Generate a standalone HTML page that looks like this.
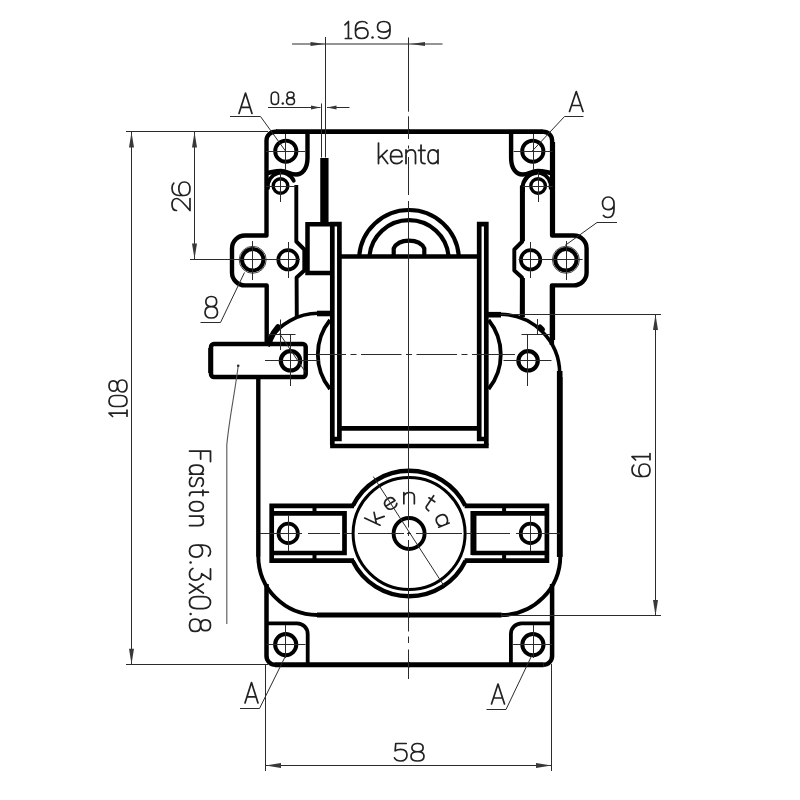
<!DOCTYPE html>
<html><head><meta charset="utf-8"><title>Drawing</title>
<style>
html,body{margin:0;padding:0;background:#fff;}
body{width:800px;height:800px;overflow:hidden;font-family:"Liberation Sans",sans-serif;}
svg{display:block}
</style></head>
<body>
<svg width="800" height="800" viewBox="0 0 800 800">
<rect width="800" height="800" fill="#fff"/>
<g>
<path d="M266.7,345 L266.7,285.4 L245,285.4 A13,13 0 0 1 232,272.4 L232,248.5 A13,13 0 0 1 245,235.5 L266.5,235.5 L266.5,140.5 A8.8,8.8 0 0 1 275.3,131.7 L277,131.7" fill="none" stroke="#000" stroke-width="4.4" stroke-linejoin="round" stroke-linecap="butt"/>
<path d="M276,131.7 L410,131.7" fill="none" stroke="#000" stroke-width="4.8" stroke-linejoin="round" stroke-linecap="butt"/>
<path d="M307.5,132 L307.5,158 C307.5,169 302,174.5 296,174.5 C290,174.5 287,171 281,171 C275,171 271,172.5 267,173" fill="none" stroke="#000" stroke-width="4.3999999999999995" stroke-linejoin="round" stroke-linecap="butt"/>
<path d="M268,188 A13.5,13.5 0 0 1 293.74,180.79" fill="none" stroke="#000" stroke-width="3.8" stroke-linejoin="round" stroke-linecap="round"/>
<path d="M296.3,185 L296.3,241.5 L304.3,249.5 L304.3,270.5 L296.6,277.5 L296.8,317" fill="none" stroke="#000" stroke-width="3.9000000000000004" stroke-linejoin="round" stroke-linecap="butt"/>
<circle cx="285.8" cy="151.2" r="10.6" fill="none" stroke="#000" stroke-width="3.9"/>
<circle cx="280.5" cy="186" r="7.3" fill="none" stroke="#000" stroke-width="3.4"/>
<circle cx="252.7" cy="259.8" r="10.7" fill="none" stroke="#000" stroke-width="4.0"/>
<circle cx="252.7" cy="259.8" r="13.5" fill="none" stroke="#333" stroke-width="0.9"/>
<circle cx="288" cy="259.8" r="9.7" fill="none" stroke="#000" stroke-width="3.7"/>
<path d="M258.3,377 L258.3,556.5" fill="none" stroke="#000" stroke-width="4.4" stroke-linejoin="round" stroke-linecap="butt"/>
<path d="M258.3,556 A59,59 0 0 0 317.3,615" fill="none" stroke="#000" stroke-width="3.9000000000000004" stroke-linejoin="round" stroke-linecap="butt"/>
<path d="M317,615 L410,615" fill="none" stroke="#000" stroke-width="5.0" stroke-linejoin="round" stroke-linecap="butt"/>
<path d="M266.5,584 L266.5,656 A8.8,8.8 0 0 0 275.3,664.8" fill="none" stroke="#000" stroke-width="4.5" stroke-linejoin="round" stroke-linecap="butt"/>
<path d="M275,664.8 L410,664.8" fill="none" stroke="#000" stroke-width="5.0" stroke-linejoin="round" stroke-linecap="butt"/>
<path d="M266.5,623.3 L297,623.3 A10.7,10.7 0 0 1 307.7,634 L307.7,664" fill="none" stroke="#000" stroke-width="3.8" stroke-linejoin="round" stroke-linecap="butt"/>
<circle cx="285.7" cy="644.6" r="10.6" fill="none" stroke="#000" stroke-width="4.0"/>
<path d="M354,505.8 L271.7,505.8 L271.7,560.6 L354,560.6" fill="none" stroke="#000" stroke-width="4.7" stroke-linejoin="miter" stroke-linecap="butt"/>
<path d="M272,513.3 L344.5,513.3 L344.5,553 L272,553" fill="none" stroke="#000" stroke-width="4.7" stroke-linejoin="miter" stroke-linecap="butt"/>
<line x1="314.5" y1="505" x2="314.5" y2="514" stroke="#000" stroke-width="4" stroke-linecap="butt"/>
<line x1="314.5" y1="552" x2="314.5" y2="561" stroke="#000" stroke-width="4" stroke-linecap="butt"/>
<circle cx="288.2" cy="533.4" r="9.7" fill="none" stroke="#000" stroke-width="3.7"/>
<path d="M330,320 A55,55 0 0 0 330,389" fill="none" stroke="#000" stroke-width="3.8" stroke-linejoin="round" stroke-linecap="butt"/>
<path d="M332.3,445 L332.3,224.2 L339.4,224.2 L339.4,439 L332.3,439" fill="none" stroke="#000" stroke-width="4.7" stroke-linejoin="miter" stroke-linecap="butt"/>
<circle cx="290.5" cy="360.8" r="9.7" fill="none" stroke="#000" stroke-width="4.2"/>
</g>
<g transform="translate(818.6,0) scale(-1,1)">
<path d="M266.7,345 L266.7,285.4 L245,285.4 A13,13 0 0 1 232,272.4 L232,248.5 A13,13 0 0 1 245,235.5 L266.5,235.5 L266.5,140.5 A8.8,8.8 0 0 1 275.3,131.7 L277,131.7" fill="none" stroke="#000" stroke-width="4.4" stroke-linejoin="round" stroke-linecap="butt"/>
<path d="M276,131.7 L410,131.7" fill="none" stroke="#000" stroke-width="4.8" stroke-linejoin="round" stroke-linecap="butt"/>
<path d="M307.5,132 L307.5,158 C307.5,169 302,174.5 296,174.5 C290,174.5 287,171 281,171 C275,171 271,172.5 267,173" fill="none" stroke="#000" stroke-width="4.3999999999999995" stroke-linejoin="round" stroke-linecap="butt"/>
<path d="M268,188 A13.5,13.5 0 0 1 293.74,180.79" fill="none" stroke="#000" stroke-width="3.8" stroke-linejoin="round" stroke-linecap="round"/>
<path d="M296.3,185 L296.3,241.5 L304.3,249.5 L304.3,270.5 L296.6,277.5 L296.8,317" fill="none" stroke="#000" stroke-width="3.9000000000000004" stroke-linejoin="round" stroke-linecap="butt"/>
<circle cx="285.8" cy="151.2" r="10.6" fill="none" stroke="#000" stroke-width="3.9"/>
<circle cx="280.5" cy="186" r="7.3" fill="none" stroke="#000" stroke-width="3.4"/>
<circle cx="252.7" cy="259.8" r="10.7" fill="none" stroke="#000" stroke-width="4.0"/>
<circle cx="252.7" cy="259.8" r="13.5" fill="none" stroke="#333" stroke-width="0.9"/>
<circle cx="288" cy="259.8" r="9.7" fill="none" stroke="#000" stroke-width="3.7"/>
<path d="M258.3,377 L258.3,556.5" fill="none" stroke="#000" stroke-width="4.4" stroke-linejoin="round" stroke-linecap="butt"/>
<path d="M258.3,556 A59,59 0 0 0 317.3,615" fill="none" stroke="#000" stroke-width="3.9000000000000004" stroke-linejoin="round" stroke-linecap="butt"/>
<path d="M317,615 L410,615" fill="none" stroke="#000" stroke-width="5.0" stroke-linejoin="round" stroke-linecap="butt"/>
<path d="M266.5,584 L266.5,656 A8.8,8.8 0 0 0 275.3,664.8" fill="none" stroke="#000" stroke-width="4.5" stroke-linejoin="round" stroke-linecap="butt"/>
<path d="M275,664.8 L410,664.8" fill="none" stroke="#000" stroke-width="5.0" stroke-linejoin="round" stroke-linecap="butt"/>
<path d="M266.5,623.3 L297,623.3 A10.7,10.7 0 0 1 307.7,634 L307.7,664" fill="none" stroke="#000" stroke-width="3.8" stroke-linejoin="round" stroke-linecap="butt"/>
<circle cx="285.7" cy="644.6" r="10.6" fill="none" stroke="#000" stroke-width="4.0"/>
<path d="M354,505.8 L271.7,505.8 L271.7,560.6 L354,560.6" fill="none" stroke="#000" stroke-width="4.7" stroke-linejoin="miter" stroke-linecap="butt"/>
<path d="M272,513.3 L344.5,513.3 L344.5,553 L272,553" fill="none" stroke="#000" stroke-width="4.7" stroke-linejoin="miter" stroke-linecap="butt"/>
<line x1="314.5" y1="505" x2="314.5" y2="514" stroke="#000" stroke-width="4" stroke-linecap="butt"/>
<line x1="314.5" y1="552" x2="314.5" y2="561" stroke="#000" stroke-width="4" stroke-linecap="butt"/>
<circle cx="288.2" cy="533.4" r="9.7" fill="none" stroke="#000" stroke-width="3.7"/>
<path d="M330,320 A55,55 0 0 0 330,389" fill="none" stroke="#000" stroke-width="3.8" stroke-linejoin="round" stroke-linecap="butt"/>
<path d="M332.3,445 L332.3,224.2 L339.4,224.2 L339.4,439 L332.3,439" fill="none" stroke="#000" stroke-width="4.7" stroke-linejoin="miter" stroke-linecap="butt"/>
<circle cx="290.5" cy="360.8" r="9.7" fill="none" stroke="#000" stroke-width="4.2"/>
</g>
<path d="M487,314.7 L501,314.7" fill="none" stroke="#000" stroke-width="5.6" stroke-linejoin="round" stroke-linecap="butt"/>
<path d="M500,314.3 A59.5,59.5 0 0 1 559.7,373.5" fill="none" stroke="#000" stroke-width="3.6" stroke-linejoin="round" stroke-linecap="butt"/>
<path d="M559.7,371 L559.7,557" fill="none" stroke="#000" stroke-width="5.6" stroke-linejoin="round" stroke-linecap="butt"/>
<path d="M540,327 L542.5,329.5" fill="none" stroke="#000" stroke-width="5.0" stroke-linejoin="round" stroke-linecap="round"/>
<path d="M331,313.5 L317,313.5" fill="none" stroke="#000" stroke-width="5.6" stroke-linejoin="round" stroke-linecap="butt"/>
<path d="M318,313.3 A59.5,59.5 0 0 0 269,340" fill="none" stroke="#000" stroke-width="3.6" stroke-linejoin="round" stroke-linecap="butt"/>
<path d="M270,340 L273.5,333 L278,327" fill="none" stroke="#000" stroke-width="5.6" stroke-linejoin="round" stroke-linecap="round"/>
<path d="M270.5,340 L267.5,346" fill="none" stroke="#000" stroke-width="5.0" stroke-linejoin="round" stroke-linecap="butt"/>
<path d="M522.4,186 L522.4,241 M522.4,278 L522.4,317" fill="none" stroke="#000" stroke-width="5.0" stroke-linejoin="round" stroke-linecap="butt"/>
<path d="M522.8,192 L522.8,187 A14,14 0 0 1 536.8,173" fill="none" stroke="#000" stroke-width="4.1" stroke-linejoin="round" stroke-linecap="butt"/>
<path d="M552.6,142 L552.6,235 M552.6,285 L552.6,340" fill="none" stroke="#000" stroke-width="5.0" stroke-linejoin="round" stroke-linecap="butt"/>
<path d="M472.8,511 L472.8,555" fill="none" stroke="#000" stroke-width="4.7" stroke-linejoin="round" stroke-linecap="butt"/>
<path d="M339,256.5 L480,256.5" fill="none" stroke="#000" stroke-width="4.7" stroke-linejoin="round" stroke-linecap="butt"/>
<path d="M339,428.4 L480,428.4" fill="none" stroke="#000" stroke-width="4.7" stroke-linejoin="round" stroke-linecap="butt"/>
<path d="M330.1,446 L488.7,446" fill="none" stroke="#000" stroke-width="4.6000000000000005" stroke-linejoin="round" stroke-linecap="butt"/>
<path d="M359.12,256.5 A50.0,50.0 0 0 1 458.88,256.5" fill="none" stroke="#000" stroke-width="4.1000000000000005" stroke-linejoin="round" stroke-linecap="butt"/>
<path d="M369.35,256.5 A39.8,39.8 0 0 1 448.65,256.5" fill="none" stroke="#000" stroke-width="4.1000000000000005" stroke-linejoin="round" stroke-linecap="butt"/>
<path d="M393.7,256 L393.7,248.5 C396.5,242.5 402,240.6 409,240.6 C416,240.6 421.5,242.5 424.3,248.5 L424.3,256" fill="none" stroke="#000" stroke-width="4.2" stroke-linejoin="round" stroke-linecap="butt"/>
<path d="M307.5,222 L307.5,273 L332,273 M305.3,224.2 L334,224.2" fill="none" stroke="#000" stroke-width="4.5" stroke-linejoin="miter" stroke-linecap="butt"/>
<path d="M324.4,158 L324.4,224" fill="none" stroke="#000" stroke-width="8.3" stroke-linejoin="round" stroke-linecap="butt"/>
<path d="M214,344 L302.7,344 A3,3 0 0 1 305.7,347 L305.7,374 A3,3 0 0 1 302.7,377 L214,377 A3,3 0 0 1 211,374 L211,347 A3,3 0 0 1 214,344 Z" fill="none" stroke="#000" stroke-width="4.5" stroke-linejoin="round" stroke-linecap="butt"/>
<path d="M210.3,348 L210.3,373" fill="none" stroke="#000" stroke-width="4.2" stroke-linejoin="round" stroke-linecap="butt"/>
<path d="M352.85,505.8 A62.7,62.7 0 0 1 465.35,505.8" fill="none" stroke="#000" stroke-width="4.4" stroke-linejoin="round" stroke-linecap="butt"/>
<path d="M352.56,560.6 A62.7,62.7 0 0 0 465.64,560.6" fill="none" stroke="#000" stroke-width="4.4" stroke-linejoin="round" stroke-linecap="butt"/>
<circle cx="409.1" cy="533.5" r="56" fill="none" stroke="#000" stroke-width="3.0"/>
<circle cx="409.1" cy="533.5" r="15.5" fill="none" stroke="#000" stroke-width="3.9"/>
<g transform="translate(380.08,525.21) rotate(-65)" fill="none" stroke="#222" stroke-width="1.7" stroke-linecap="round" stroke-linejoin="round"><g transform="translate(0.00,-17) scale(21.1111,17)"><path d="M0,0 L0,1 M0.43,0.36 L0,0.76 M0.16,0.62 L0.46,1" vector-effect="non-scaling-stroke"/></g></g>
<g transform="translate(388.64,511.14) rotate(-32)" fill="none" stroke="#222" stroke-width="1.7" stroke-linecap="round" stroke-linejoin="round"><g transform="translate(0.00,-17) scale(22.0000,17)"><path d="M0,0.67 L0.5,0.67 C0.5,0.46 0.42,0.34 0.25,0.34 C0.08,0.34 0,0.47 0,0.67 C0,0.87 0.08,1 0.26,1 C0.38,1 0.46,0.95 0.5,0.87" vector-effect="non-scaling-stroke"/></g></g>
<g transform="translate(403.85,503.7) rotate(0)" fill="none" stroke="#222" stroke-width="1.7" stroke-linecap="round" stroke-linejoin="round"><g transform="translate(0.00,-17) scale(21.0000,17)"><path d="M0,0.34 L0,1 M0,0.52 C0.06,0.4 0.15,0.34 0.27,0.34 C0.42,0.34 0.5,0.43 0.5,0.58 L0.5,1" vector-effect="non-scaling-stroke"/></g></g>
<g transform="translate(422.86,506.84) rotate(34)" fill="none" stroke="#222" stroke-width="1.7" stroke-linecap="round" stroke-linejoin="round"><g transform="translate(0.00,-17) scale(19.4444,17)"><path d="M0.14,0.1 L0.14,0.85 C0.14,0.95 0.22,1 0.36,1 M0,0.36 L0.36,0.36" vector-effect="non-scaling-stroke"/></g></g>
<g transform="translate(434.76,517.47) rotate(68)" fill="none" stroke="#222" stroke-width="1.7" stroke-linecap="round" stroke-linejoin="round"><g transform="translate(0.00,-17) scale(21.0000,17)"><path d="M0.5,0.34 L0.5,1 M0.5,0.5 C0.44,0.4 0.36,0.34 0.25,0.34 C0.08,0.34 0,0.47 0,0.67 C0,0.87 0.08,1 0.25,1 C0.36,1 0.44,0.94 0.5,0.84" vector-effect="non-scaling-stroke"/></g></g>
<line x1="266" y1="151.5" x2="305" y2="151.5" stroke="#2b2b2b" stroke-width="1.0" stroke-linecap="butt"/>
<line x1="285.5" y1="134" x2="285.5" y2="170" stroke="#2b2b2b" stroke-width="1.0" stroke-linecap="butt"/>
<line x1="266" y1="186.5" x2="296" y2="186.5" stroke="#2b2b2b" stroke-width="1.0" stroke-linecap="butt"/>
<line x1="280.5" y1="172" x2="280.5" y2="202" stroke="#2b2b2b" stroke-width="1.0" stroke-linecap="butt"/>
<line x1="236" y1="259.5" x2="300" y2="259.5" stroke="#2b2b2b" stroke-width="1.0" stroke-linecap="butt"/>
<line x1="252.5" y1="241" x2="252.5" y2="280" stroke="#2b2b2b" stroke-width="1.0" stroke-linecap="butt"/>
<line x1="288.5" y1="242" x2="288.5" y2="278" stroke="#2b2b2b" stroke-width="1.0" stroke-linecap="butt"/>
<line x1="266.5" y1="644.5" x2="305.5" y2="644.5" stroke="#2b2b2b" stroke-width="1.0" stroke-linecap="butt"/>
<line x1="285.5" y1="625" x2="285.5" y2="658" stroke="#2b2b2b" stroke-width="1.0" stroke-linecap="butt"/>
<line x1="288.5" y1="515" x2="288.5" y2="551" stroke="#2b2b2b" stroke-width="1.0" stroke-linecap="butt"/>
<line x1="552.6" y1="151.5" x2="513.6" y2="151.5" stroke="#2b2b2b" stroke-width="1.0" stroke-linecap="butt"/>
<line x1="533.5" y1="134" x2="533.5" y2="170" stroke="#2b2b2b" stroke-width="1.0" stroke-linecap="butt"/>
<line x1="552.6" y1="186.5" x2="522.6" y2="186.5" stroke="#2b2b2b" stroke-width="1.0" stroke-linecap="butt"/>
<line x1="538.5" y1="172" x2="538.5" y2="202" stroke="#2b2b2b" stroke-width="1.0" stroke-linecap="butt"/>
<line x1="582.6" y1="259.5" x2="518.6" y2="259.5" stroke="#2b2b2b" stroke-width="1.0" stroke-linecap="butt"/>
<line x1="566.5" y1="241" x2="566.5" y2="280" stroke="#2b2b2b" stroke-width="1.0" stroke-linecap="butt"/>
<line x1="530.5" y1="242" x2="530.5" y2="278" stroke="#2b2b2b" stroke-width="1.0" stroke-linecap="butt"/>
<line x1="552.1" y1="644.5" x2="513.1" y2="644.5" stroke="#2b2b2b" stroke-width="1.0" stroke-linecap="butt"/>
<line x1="533.5" y1="625" x2="533.5" y2="658" stroke="#2b2b2b" stroke-width="1.0" stroke-linecap="butt"/>
<line x1="530.5" y1="515" x2="530.5" y2="551" stroke="#2b2b2b" stroke-width="1.0" stroke-linecap="butt"/>
<line x1="408.5" y1="37.5" x2="408.5" y2="111.7" stroke="#2b2b2b" stroke-width="1.0" stroke-linecap="butt"/>
<line x1="408.5" y1="116.3" x2="408.5" y2="139" stroke="#2b2b2b" stroke-width="1.0" stroke-linecap="butt"/>
<line x1="408.5" y1="145.5" x2="408.5" y2="148.5" stroke="#2b2b2b" stroke-width="1.0" stroke-linecap="butt"/>
<line x1="408.5" y1="157" x2="408.5" y2="195" stroke="#2b2b2b" stroke-width="1.0" stroke-linecap="butt"/>
<line x1="408.5" y1="201" x2="408.5" y2="527.5" stroke="#2b2b2b" stroke-width="1.0" stroke-linecap="butt"/>
<line x1="408.5" y1="532" x2="408.5" y2="536" stroke="#2b2b2b" stroke-width="1.0" stroke-linecap="butt"/>
<line x1="408.5" y1="540" x2="408.5" y2="631.5" stroke="#2b2b2b" stroke-width="1.0" stroke-linecap="butt"/>
<line x1="408.5" y1="636.5" x2="408.5" y2="643" stroke="#2b2b2b" stroke-width="1.0" stroke-linecap="butt"/>
<line x1="408.5" y1="649.5" x2="408.5" y2="679" stroke="#2b2b2b" stroke-width="1.0" stroke-linecap="butt"/>
<line x1="308" y1="354.5" x2="346" y2="354.5" stroke="#2b2b2b" stroke-width="1.0" stroke-linecap="butt"/>
<line x1="350.5" y1="354.5" x2="356.5" y2="354.5" stroke="#2b2b2b" stroke-width="1.0" stroke-linecap="butt"/>
<line x1="361" y1="354.5" x2="401.5" y2="354.5" stroke="#2b2b2b" stroke-width="1.0" stroke-linecap="butt"/>
<line x1="406" y1="354.5" x2="412" y2="354.5" stroke="#2b2b2b" stroke-width="1.0" stroke-linecap="butt"/>
<line x1="416.5" y1="354.5" x2="457" y2="354.5" stroke="#2b2b2b" stroke-width="1.0" stroke-linecap="butt"/>
<line x1="461.5" y1="354.5" x2="467.5" y2="354.5" stroke="#2b2b2b" stroke-width="1.0" stroke-linecap="butt"/>
<line x1="472" y1="354.5" x2="515" y2="354.5" stroke="#2b2b2b" stroke-width="1.0" stroke-linecap="butt"/>
<line x1="260" y1="533.5" x2="302" y2="533.5" stroke="#2b2b2b" stroke-width="1.0" stroke-linecap="butt"/>
<line x1="308" y1="533.5" x2="340" y2="533.5" stroke="#2b2b2b" stroke-width="1.0" stroke-linecap="butt"/>
<line x1="344" y1="533.5" x2="352" y2="533.5" stroke="#2b2b2b" stroke-width="1.0" stroke-linecap="butt"/>
<line x1="358" y1="533.5" x2="404" y2="533.5" stroke="#2b2b2b" stroke-width="1.0" stroke-linecap="butt"/>
<line x1="407" y1="533.5" x2="411" y2="533.5" stroke="#2b2b2b" stroke-width="1.0" stroke-linecap="butt"/>
<line x1="416" y1="533.5" x2="462" y2="533.5" stroke="#2b2b2b" stroke-width="1.0" stroke-linecap="butt"/>
<line x1="466" y1="533.5" x2="472" y2="533.5" stroke="#2b2b2b" stroke-width="1.0" stroke-linecap="butt"/>
<line x1="476" y1="533.5" x2="510" y2="533.5" stroke="#2b2b2b" stroke-width="1.0" stroke-linecap="butt"/>
<line x1="516" y1="533.5" x2="560" y2="533.5" stroke="#2b2b2b" stroke-width="1.0" stroke-linecap="butt"/>
<line x1="373.3" y1="476.6" x2="444.1" y2="586" stroke="#2b2b2b" stroke-width="1.0" stroke-linecap="butt"/>
<line x1="265" y1="360.5" x2="320" y2="360.5" stroke="#2b2b2b" stroke-width="1.0" stroke-linecap="butt"/>
<line x1="290.5" y1="334" x2="290.5" y2="386" stroke="#2b2b2b" stroke-width="1.0" stroke-linecap="butt"/>
<line x1="503.5" y1="360.5" x2="551.5" y2="360.5" stroke="#2b2b2b" stroke-width="1.0" stroke-linecap="butt"/>
<line x1="527.5" y1="334" x2="527.5" y2="386" stroke="#2b2b2b" stroke-width="1.0" stroke-linecap="butt"/>
<line x1="521.5" y1="334.5" x2="550" y2="334.5" stroke="#2b2b2b" stroke-width="1.0" stroke-linecap="butt"/>
<line x1="537.5" y1="319" x2="537.5" y2="335" stroke="#2b2b2b" stroke-width="1.0" stroke-linecap="butt"/>
<line x1="268.5" y1="334.5" x2="295.5" y2="334.5" stroke="#2b2b2b" stroke-width="1.0" stroke-linecap="butt"/>
<line x1="280.5" y1="319.5" x2="280.5" y2="350" stroke="#2b2b2b" stroke-width="1.0" stroke-linecap="butt"/>
<line x1="279.5" y1="333.5" x2="305.7" y2="372.5" stroke="#2b2b2b" stroke-width="1.0" stroke-linecap="butt"/>
<line x1="325.5" y1="37" x2="325.5" y2="157.5" stroke="#2b2b2b" stroke-width="1.0" stroke-linecap="butt"/>
<line x1="292" y1="44" x2="442.5" y2="44" stroke="#2b2b2b" stroke-width="1.0" stroke-linecap="butt"/>
<polygon points="325.00,44.00 310.50,46.10 310.50,41.90" fill="#383838"/>
<polygon points="410.50,44.00 425.00,41.90 425.00,46.10" fill="#383838"/>
<g transform="translate(345,38.5) rotate(0)" fill="none" stroke="#222" stroke-width="1.7" stroke-linecap="round" stroke-linejoin="round"><g transform="translate(0.00,-17) scale(18.0556,17)"><path d="M0,0.2 L0.19,0 L0.19,1 M0.02,1 L0.36,1" vector-effect="non-scaling-stroke"/></g><g transform="translate(10.50,-17) scale(20.8333,17)"><path d="M0.55,0.1 C0.5,0.03 0.42,0 0.32,0 C0.12,0 0,0.15 0,0.4 L0,0.68 C0,0.88 0.12,1 0.3,1 C0.48,1 0.6,0.88 0.6,0.68 C0.6,0.48 0.48,0.38 0.3,0.38 C0.15,0.38 0.05,0.45 0,0.58" vector-effect="non-scaling-stroke"/></g><circle cx="27.50" cy="-1.1" r="1.25" fill="#222" stroke="none"/><g transform="translate(32.50,-17) scale(20.8333,17)"><path d="M0.05,0.9 C0.1,0.97 0.18,1 0.28,1 C0.48,1 0.6,0.85 0.6,0.6 L0.6,0.32 C0.6,0.12 0.48,0 0.3,0 C0.12,0 0,0.12 0,0.32 C0,0.52 0.12,0.62 0.3,0.62 C0.45,0.62 0.55,0.55 0.6,0.42" vector-effect="non-scaling-stroke"/></g></g>
<line x1="321.5" y1="103.5" x2="321.5" y2="157.5" stroke="#2b2b2b" stroke-width="1.0" stroke-linecap="butt"/>
<line x1="268" y1="107.5" x2="320.5" y2="107.5" stroke="#2b2b2b" stroke-width="1.0" stroke-linecap="butt"/>
<line x1="327" y1="107.5" x2="349.5" y2="107.5" stroke="#2b2b2b" stroke-width="1.0" stroke-linecap="butt"/>
<polygon points="320.50,107.50 311.00,109.40 311.00,105.60" fill="#383838"/>
<polygon points="327.00,107.50 336.50,105.60 336.50,109.40" fill="#383838"/>
<g transform="translate(271.2,104.5) rotate(0)" fill="none" stroke="#222" stroke-width="1.55" stroke-linecap="round" stroke-linejoin="round"><g transform="translate(0.00,-12.5) scale(12.1667,12.5)"><path d="M0.3,0 C0.1,0 0,0.15 0,0.35 L0,0.65 C0,0.85 0.1,1 0.3,1 C0.5,1 0.6,0.85 0.6,0.65 L0.6,0.35 C0.6,0.15 0.5,0 0.3,0 Z" vector-effect="non-scaling-stroke"/></g><circle cx="11.60" cy="-1.1" r="1.25" fill="#222" stroke="none"/><g transform="translate(15.30,-12.5) scale(13.3333,12.5)"><path d="M0.3,0.47 C0.12,0.47 0.04,0.37 0.04,0.24 C0.04,0.1 0.14,0 0.3,0 C0.46,0 0.56,0.1 0.56,0.24 C0.56,0.37 0.48,0.47 0.3,0.47 C0.1,0.47 0,0.58 0,0.73 C0,0.9 0.12,1 0.3,1 C0.48,1 0.6,0.9 0.6,0.73 C0.6,0.58 0.5,0.47 0.3,0.47" vector-effect="non-scaling-stroke"/></g></g>
<g transform="translate(378.5,163.5) rotate(0)" fill="none" stroke="#222" stroke-width="1.75" stroke-linecap="round" stroke-linejoin="round"><g transform="translate(0.00,-20.5) scale(20.0000,20.5)"><path d="M0,0 L0,1 M0.43,0.36 L0,0.76 M0.16,0.62 L0.46,1" vector-effect="non-scaling-stroke"/></g><g transform="translate(12.00,-20.5) scale(23.0000,20.5)"><path d="M0,0.67 L0.5,0.67 C0.5,0.46 0.42,0.34 0.25,0.34 C0.08,0.34 0,0.47 0,0.67 C0,0.87 0.08,1 0.26,1 C0.38,1 0.46,0.95 0.5,0.87" vector-effect="non-scaling-stroke"/></g><g transform="translate(27.50,-20.5) scale(19.0000,20.5)"><path d="M0,0.34 L0,1 M0,0.52 C0.06,0.4 0.15,0.34 0.27,0.34 C0.42,0.34 0.5,0.43 0.5,0.58 L0.5,1" vector-effect="non-scaling-stroke"/></g><g transform="translate(40.00,-20.5) scale(18.0556,20.5)"><path d="M0.14,0.1 L0.14,0.85 C0.14,0.95 0.22,1 0.36,1 M0,0.36 L0.36,0.36" vector-effect="non-scaling-stroke"/></g><g transform="translate(49.50,-20.5) scale(20.0000,20.5)"><path d="M0.5,0.34 L0.5,1 M0.5,0.5 C0.44,0.4 0.36,0.34 0.25,0.34 C0.08,0.34 0,0.47 0,0.67 C0,0.87 0.08,1 0.25,1 C0.36,1 0.44,0.94 0.5,0.84" vector-effect="non-scaling-stroke"/></g></g>
<g transform="translate(239,113.5) rotate(0)" fill="none" stroke="#222" stroke-width="1.7" stroke-linecap="round" stroke-linejoin="round"><g transform="translate(0.00,-20.5) scale(19.6970,20.5)"><path d="M0,1 L0.33,0 L0.66,1 M0.1,0.7 L0.56,0.7" vector-effect="non-scaling-stroke"/></g></g>
<path d="M230,116.5 L260.5,116.5 L285.5,151" fill="none" stroke="#2b2b2b" stroke-width="1" stroke-linejoin="round" stroke-linecap="butt"/>
<g transform="translate(569.5,111.5) rotate(0)" fill="none" stroke="#222" stroke-width="1.7" stroke-linecap="round" stroke-linejoin="round"><g transform="translate(0.00,-20) scale(20.4545,20)"><path d="M0,1 L0.33,0 L0.66,1 M0.1,0.7 L0.56,0.7" vector-effect="non-scaling-stroke"/></g></g>
<path d="M583.5,116.5 L564.5,116.5 L532.3,151" fill="none" stroke="#2b2b2b" stroke-width="1" stroke-linejoin="round" stroke-linecap="butt"/>
<g transform="translate(245,703) rotate(0)" fill="none" stroke="#222" stroke-width="1.7" stroke-linecap="round" stroke-linejoin="round"><g transform="translate(0.00,-20.5) scale(19.6970,20.5)"><path d="M0,1 L0.33,0 L0.66,1 M0.1,0.7 L0.56,0.7" vector-effect="non-scaling-stroke"/></g></g>
<path d="M240,708.5 L259.5,708.5 L285.5,656" fill="none" stroke="#2b2b2b" stroke-width="1" stroke-linejoin="round" stroke-linecap="butt"/>
<g transform="translate(491.5,704) rotate(0)" fill="none" stroke="#222" stroke-width="1.7" stroke-linecap="round" stroke-linejoin="round"><g transform="translate(0.00,-20) scale(19.6970,20)"><path d="M0,1 L0.33,0 L0.66,1 M0.1,0.7 L0.56,0.7" vector-effect="non-scaling-stroke"/></g></g>
<path d="M486.5,709.5 L506,709.5 L532,655" fill="none" stroke="#2b2b2b" stroke-width="1" stroke-linejoin="round" stroke-linecap="butt"/>
<g transform="translate(602.5,217.5) rotate(0)" fill="none" stroke="#222" stroke-width="1.7" stroke-linecap="round" stroke-linejoin="round"><g transform="translate(0.00,-20.5) scale(19.1667,20.5)"><path d="M0.05,0.9 C0.1,0.97 0.18,1 0.28,1 C0.48,1 0.6,0.85 0.6,0.6 L0.6,0.32 C0.6,0.12 0.48,0 0.3,0 C0.12,0 0,0.12 0,0.32 C0,0.52 0.12,0.62 0.3,0.62 C0.45,0.62 0.55,0.55 0.6,0.42" vector-effect="non-scaling-stroke"/></g></g>
<path d="M617,222.5 L597,222.5 L565,245.5" fill="none" stroke="#2b2b2b" stroke-width="1" stroke-linejoin="round" stroke-linecap="butt"/>
<g transform="translate(205,318) rotate(0)" fill="none" stroke="#222" stroke-width="1.7" stroke-linecap="round" stroke-linejoin="round"><g transform="translate(0.00,-21.5) scale(20.8333,21.5)"><path d="M0.3,0.47 C0.12,0.47 0.04,0.37 0.04,0.24 C0.04,0.1 0.14,0 0.3,0 C0.46,0 0.56,0.1 0.56,0.24 C0.56,0.37 0.48,0.47 0.3,0.47 C0.1,0.47 0,0.58 0,0.73 C0,0.9 0.12,1 0.3,1 C0.48,1 0.6,0.9 0.6,0.73 C0.6,0.58 0.5,0.47 0.3,0.47" vector-effect="non-scaling-stroke"/></g></g>
<path d="M200.5,322.5 L220.5,322.5 L244.5,272.5" fill="none" stroke="#2b2b2b" stroke-width="1" stroke-linejoin="round" stroke-linecap="butt"/>
<line x1="126" y1="131.5" x2="268" y2="131.5" stroke="#2b2b2b" stroke-width="1.0" stroke-linecap="butt"/>
<line x1="190" y1="259.5" x2="236" y2="259.5" stroke="#2b2b2b" stroke-width="1.0" stroke-linecap="butt"/>
<line x1="194.5" y1="132" x2="194.5" y2="259.5" stroke="#2b2b2b" stroke-width="1.0" stroke-linecap="butt"/>
<polygon points="194.50,132.00 197.00,147.50 192.00,147.50" fill="#383838"/>
<polygon points="194.50,259.00 192.00,243.50 197.00,243.50" fill="#383838"/>
<g transform="translate(190,210.5) rotate(-90)" fill="none" stroke="#222" stroke-width="1.7" stroke-linecap="round" stroke-linejoin="round"><g transform="translate(0.00,-18) scale(20.0000,18)"><path d="M0,0.25 C0,0.1 0.12,0 0.3,0 C0.48,0 0.6,0.1 0.6,0.27 C0.6,0.45 0.4,0.6 0,1 L0.6,1" vector-effect="non-scaling-stroke"/></g><g transform="translate(15.00,-18) scale(22.5000,18)"><path d="M0.55,0.1 C0.5,0.03 0.42,0 0.32,0 C0.12,0 0,0.15 0,0.4 L0,0.68 C0,0.88 0.12,1 0.3,1 C0.48,1 0.6,0.88 0.6,0.68 C0.6,0.48 0.48,0.38 0.3,0.38 C0.15,0.38 0.05,0.45 0,0.58" vector-effect="non-scaling-stroke"/></g></g>
<line x1="131.5" y1="132" x2="131.5" y2="664" stroke="#2b2b2b" stroke-width="1.0" stroke-linecap="butt"/>
<polygon points="131.50,132.00 134.00,147.50 129.00,147.50" fill="#383838"/>
<polygon points="131.50,664.30 129.00,648.80 134.00,648.80" fill="#383838"/>
<line x1="126" y1="664.5" x2="268" y2="664.5" stroke="#2b2b2b" stroke-width="1.0" stroke-linecap="butt"/>
<g transform="translate(127,416.5) rotate(-90)" fill="none" stroke="#222" stroke-width="1.7" stroke-linecap="round" stroke-linejoin="round"><g transform="translate(0.00,-18) scale(18.0556,18)"><path d="M0,0.2 L0.19,0 L0.19,1 M0.02,1 L0.36,1" vector-effect="non-scaling-stroke"/></g><g transform="translate(10.00,-18) scale(18.3333,18)"><path d="M0.3,0 C0.1,0 0,0.15 0,0.35 L0,0.65 C0,0.85 0.1,1 0.3,1 C0.5,1 0.6,0.85 0.6,0.65 L0.6,0.35 C0.6,0.15 0.5,0 0.3,0 Z" vector-effect="non-scaling-stroke"/></g><g transform="translate(24.50,-18) scale(20.0000,18)"><path d="M0.3,0.47 C0.12,0.47 0.04,0.37 0.04,0.24 C0.04,0.1 0.14,0 0.3,0 C0.46,0 0.56,0.1 0.56,0.24 C0.56,0.37 0.48,0.47 0.3,0.47 C0.1,0.47 0,0.58 0,0.73 C0,0.9 0.12,1 0.3,1 C0.48,1 0.6,0.9 0.6,0.73 C0.6,0.58 0.5,0.47 0.3,0.47" vector-effect="non-scaling-stroke"/></g></g>
<line x1="500.5" y1="314.5" x2="661" y2="314.5" stroke="#2b2b2b" stroke-width="1.0" stroke-linecap="butt"/>
<line x1="501" y1="615.5" x2="661" y2="615.5" stroke="#2b2b2b" stroke-width="1.0" stroke-linecap="butt"/>
<line x1="655.5" y1="314.5" x2="655.5" y2="615.5" stroke="#2b2b2b" stroke-width="1.0" stroke-linecap="butt"/>
<polygon points="655.50,314.50 658.00,330.00 653.00,330.00" fill="#383838"/>
<polygon points="655.50,615.50 653.00,600.00 658.00,600.00" fill="#383838"/>
<g transform="translate(650,476.5) rotate(-90)" fill="none" stroke="#222" stroke-width="1.7" stroke-linecap="round" stroke-linejoin="round"><g transform="translate(0.00,-18) scale(20.8333,18)"><path d="M0.55,0.1 C0.5,0.03 0.42,0 0.32,0 C0.12,0 0,0.15 0,0.4 L0,0.68 C0,0.88 0.12,1 0.3,1 C0.48,1 0.6,0.88 0.6,0.68 C0.6,0.48 0.48,0.38 0.3,0.38 C0.15,0.38 0.05,0.45 0,0.58" vector-effect="non-scaling-stroke"/></g><g transform="translate(16.50,-18) scale(18.0556,18)"><path d="M0,0.2 L0.19,0 L0.19,1 M0.02,1 L0.36,1" vector-effect="non-scaling-stroke"/></g></g>
<line x1="265.5" y1="664" x2="265.5" y2="771" stroke="#2b2b2b" stroke-width="1.0" stroke-linecap="butt"/>
<line x1="551.5" y1="664" x2="551.5" y2="771" stroke="#2b2b2b" stroke-width="1.0" stroke-linecap="butt"/>
<line x1="266" y1="765.5" x2="552" y2="765.5" stroke="#2b2b2b" stroke-width="1.0" stroke-linecap="butt"/>
<polygon points="265.50,765.50 281.00,763.00 281.00,768.00" fill="#383838"/>
<polygon points="551.50,765.50 536.00,768.00 536.00,763.00" fill="#383838"/>
<g transform="translate(394.5,761) rotate(0)" fill="none" stroke="#222" stroke-width="1.7" stroke-linecap="round" stroke-linejoin="round"><g transform="translate(0.00,-17.5) scale(20.8333,17.5)"><path d="M0.56,0 L0.06,0 L0.03,0.42 C0.1,0.36 0.2,0.33 0.3,0.33 C0.5,0.33 0.6,0.47 0.6,0.66 C0.6,0.86 0.48,1 0.3,1 C0.15,1 0.05,0.93 0,0.82" vector-effect="non-scaling-stroke"/></g><g transform="translate(16.50,-17.5) scale(21.6667,17.5)"><path d="M0.3,0.47 C0.12,0.47 0.04,0.37 0.04,0.24 C0.04,0.1 0.14,0 0.3,0 C0.46,0 0.56,0.1 0.56,0.24 C0.56,0.37 0.48,0.47 0.3,0.47 C0.1,0.47 0,0.58 0,0.73 C0,0.9 0.12,1 0.3,1 C0.48,1 0.6,0.9 0.6,0.73 C0.6,0.58 0.5,0.47 0.3,0.47" vector-effect="non-scaling-stroke"/></g></g>
<g transform="translate(189.5,451) rotate(90)" fill="none" stroke="#222" stroke-width="1.75" stroke-linecap="round" stroke-linejoin="round"><g transform="translate(0.00,-21) scale(19.0909,21)"><path d="M0,1 L0,0 L0.55,0 M0,0.47 L0.42,0.47" vector-effect="non-scaling-stroke"/></g><g transform="translate(14.00,-21) scale(18.0000,21)"><path d="M0.5,0.34 L0.5,1 M0.5,0.5 C0.44,0.4 0.36,0.34 0.25,0.34 C0.08,0.34 0,0.47 0,0.67 C0,0.87 0.08,1 0.25,1 C0.36,1 0.44,0.94 0.5,0.84" vector-effect="non-scaling-stroke"/></g><g transform="translate(26.50,-21) scale(19.1489,21)"><path d="M0.45,0.42 C0.4,0.36 0.33,0.34 0.24,0.34 C0.1,0.34 0.02,0.4 0.02,0.5 C0.02,0.6 0.1,0.64 0.24,0.67 C0.38,0.7 0.47,0.74 0.47,0.84 C0.47,0.94 0.38,1 0.24,1 C0.12,1 0.05,0.97 0,0.9" vector-effect="non-scaling-stroke"/></g><g transform="translate(39.00,-21) scale(15.2778,21)"><path d="M0.14,0.1 L0.14,0.85 C0.14,0.95 0.22,1 0.36,1 M0,0.36 L0.36,0.36" vector-effect="non-scaling-stroke"/></g><g transform="translate(50.50,-21) scale(19.0000,21)"><path d="M0.25,0.34 C0.08,0.34 0,0.47 0,0.67 C0,0.87 0.08,1 0.25,1 C0.42,1 0.5,0.87 0.5,0.67 C0.5,0.47 0.42,0.34 0.25,0.34 Z" vector-effect="non-scaling-stroke"/></g><g transform="translate(65.00,-21) scale(19.0000,21)"><path d="M0,0.34 L0,1 M0,0.52 C0.06,0.4 0.15,0.34 0.27,0.34 C0.42,0.34 0.5,0.43 0.5,0.58 L0.5,1" vector-effect="non-scaling-stroke"/></g><g transform="translate(94.00,-21) scale(20.0000,21)"><path d="M0.55,0.1 C0.5,0.03 0.42,0 0.32,0 C0.12,0 0,0.15 0,0.4 L0,0.68 C0,0.88 0.12,1 0.3,1 C0.48,1 0.6,0.88 0.6,0.68 C0.6,0.48 0.48,0.38 0.3,0.38 C0.15,0.38 0.05,0.45 0,0.58" vector-effect="non-scaling-stroke"/></g><circle cx="111.50" cy="-1.1" r="1.25" fill="#222" stroke="none"/><g transform="translate(117.50,-21) scale(19.1667,21)"><path d="M0.02,0 L0.58,0 L0.27,0.42 C0.48,0.42 0.6,0.55 0.6,0.72 C0.6,0.9 0.48,1 0.3,1 C0.15,1 0.05,0.94 0,0.84" vector-effect="non-scaling-stroke"/></g><g transform="translate(133.00,-21) scale(19.5652,21)"><path d="M0,0.34 L0.46,1 M0.46,0.34 L0,1" vector-effect="non-scaling-stroke"/></g><g transform="translate(145.50,-21) scale(20.0000,21)"><path d="M0.3,0 C0.1,0 0,0.15 0,0.35 L0,0.65 C0,0.85 0.1,1 0.3,1 C0.5,1 0.6,0.85 0.6,0.65 L0.6,0.35 C0.6,0.15 0.5,0 0.3,0 Z" vector-effect="non-scaling-stroke"/></g><circle cx="163.00" cy="-1.1" r="1.25" fill="#222" stroke="none"/><g transform="translate(168.00,-21) scale(20.8333,21)"><path d="M0.3,0.47 C0.12,0.47 0.04,0.37 0.04,0.24 C0.04,0.1 0.14,0 0.3,0 C0.46,0 0.56,0.1 0.56,0.24 C0.56,0.37 0.48,0.47 0.3,0.47 C0.1,0.47 0,0.58 0,0.73 C0,0.9 0.12,1 0.3,1 C0.48,1 0.6,0.9 0.6,0.73 C0.6,0.58 0.5,0.47 0.3,0.47" vector-effect="non-scaling-stroke"/></g></g>
<path d="M238.2,366 C235,392 229,420 226.8,445 L226.8,624" fill="none" stroke="#555" stroke-width="1.1" stroke-linejoin="round" stroke-linecap="butt"/>
<circle cx="238.2" cy="365.8" r="1.3" fill="#2b2b2b" stroke="#2b2b2b" stroke-width="0"/>
</svg>
</body></html>
